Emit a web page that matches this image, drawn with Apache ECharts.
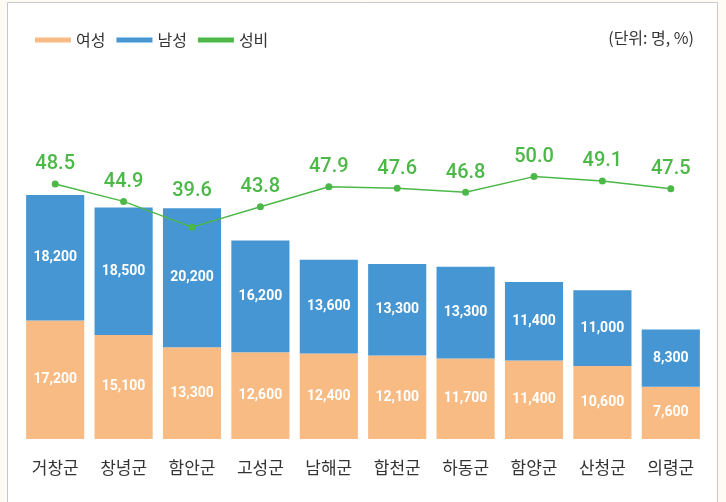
<!DOCTYPE html>
<html>
<head>
<meta charset="utf-8">
<script src="https://cdn.jsdelivr.net/npm/echarts@6/dist/echarts.min.js"></script>
<style>
	html, body { margin: 0; padding: 0; background: #fdfbf4; }
	#chart { width: 726px; height: 502px; }
</style>
</head>
<body>
<div id="chart"></div>
<script>
// 데이터
var regions = ['거창군', '창녕군', '함안군', '고성군', '남해군', '합천군', '하동군', '함양군', '산청군', '의령군'];
var female = [17200, 15100, 13300, 12600, 12400, 12100, 11700, 11400, 10600, 7600];
var male = [18200, 18500, 20200, 16200, 13600, 13300, 13300, 11400, 11000, 8300];
var sexRatio = [48.5, 44.9, 39.6, 43.8, 47.9, 47.6, 46.8, 50.0, 49.1, 47.5];

var numFont = 'Roboto, sans-serif';
var krFont = '"Noto Sans CJK KR", sans-serif';

var chart = echarts.init(document.getElementById('chart'));

//
function fmt(v) {
	return v.toLocaleString('en-US');
}

// 함안군 라벨은 막대 위로 올림
var ratioData = sexRatio.map(function (v, i) {
	if (i === 2) {
		return { value: v, label: { distance: 23 } };
	}
	return v;
});

var option = {
	backgroundColor: 'transparent',
	animation: false,
	graphic: [{
		type: 'rect',
		shape: { x: 7.5, y: 2.5, width: 710, height: 520 },
		style: { fill: '#fff', stroke: '#c8c8c8', lineWidth: 1 },
		z: -10
	}, {
		type: 'text',
		right: 32,
		top: 30,
		style: { text: '(단위: 명, %)', fill: '#333', font: '16px "Noto Sans CJK KR", sans-serif' }
	}],
	legend: {
		left: 30,
		top: 27,
		itemWidth: 36,
		itemHeight: 5,
		itemGap: 11,
		icon: 'rect',
		textStyle: { color: '#333', fontSize: 16, fontFamily: krFont },
		data: ['여성', '남성', '성비']
	},
	grid: { left: 21, right: 21, top: 60, bottom: 63 },
	xAxis: {
		type: 'category',
		data: regions,
		axisLine: { show: false },
		axisTick: { show: false },
		axisLabel: { color: '#333', fontSize: 17, fontFamily: krFont, margin: 20 }
	},
	yAxis: [{
		type: 'value',
		min: 0,
		max: 55000,
		show: false
	}, {
		type: 'value',
		min: -4,
		max: 74,
		show: false
	}],
	series: [{
		name: '여성',
		type: 'bar',
		stack: 'pop',
		data: female,
		barCategoryGap: '15%',
		itemStyle: { color: '#f9bb84' },
		label: {
			show: true,
			position: 'inside',
			color: '#fff',
			fontSize: 14,
			fontWeight: 'bold',
			fontFamily: numFont,
			formatter: function (p) { return fmt(p.value); }
		}
	}, {
		name: '남성',
		type: 'bar',
		stack: 'pop',
		data: male,
		itemStyle: { color: '#4596d2' },
		label: {
			show: true,
			position: 'inside',
			color: '#fff',
			fontSize: 14,
			fontWeight: 'bold',
			fontFamily: numFont,
			formatter: function (p) { return fmt(p.value); }
		}
	}, {
		name: '성비',
		type: 'line',
		yAxisIndex: 1,
		data: ratioData,
		symbol: 'circle',
		symbolSize: 7,
		lineStyle: { color: '#4cb847', width: 1.5 },
		itemStyle: { color: '#4cb847' },
		label: {
			show: true,
			position: 'top',
			distance: 6,
			color: '#4cb847',
			fontSize: 20,
			fontWeight: 500,
			fontFamily: numFont,
			formatter: function (p) { return p.value.toFixed(1); }
		},
		z: 5
	}]
};

chart.setOption(option);
</script>
</body>
</html>
